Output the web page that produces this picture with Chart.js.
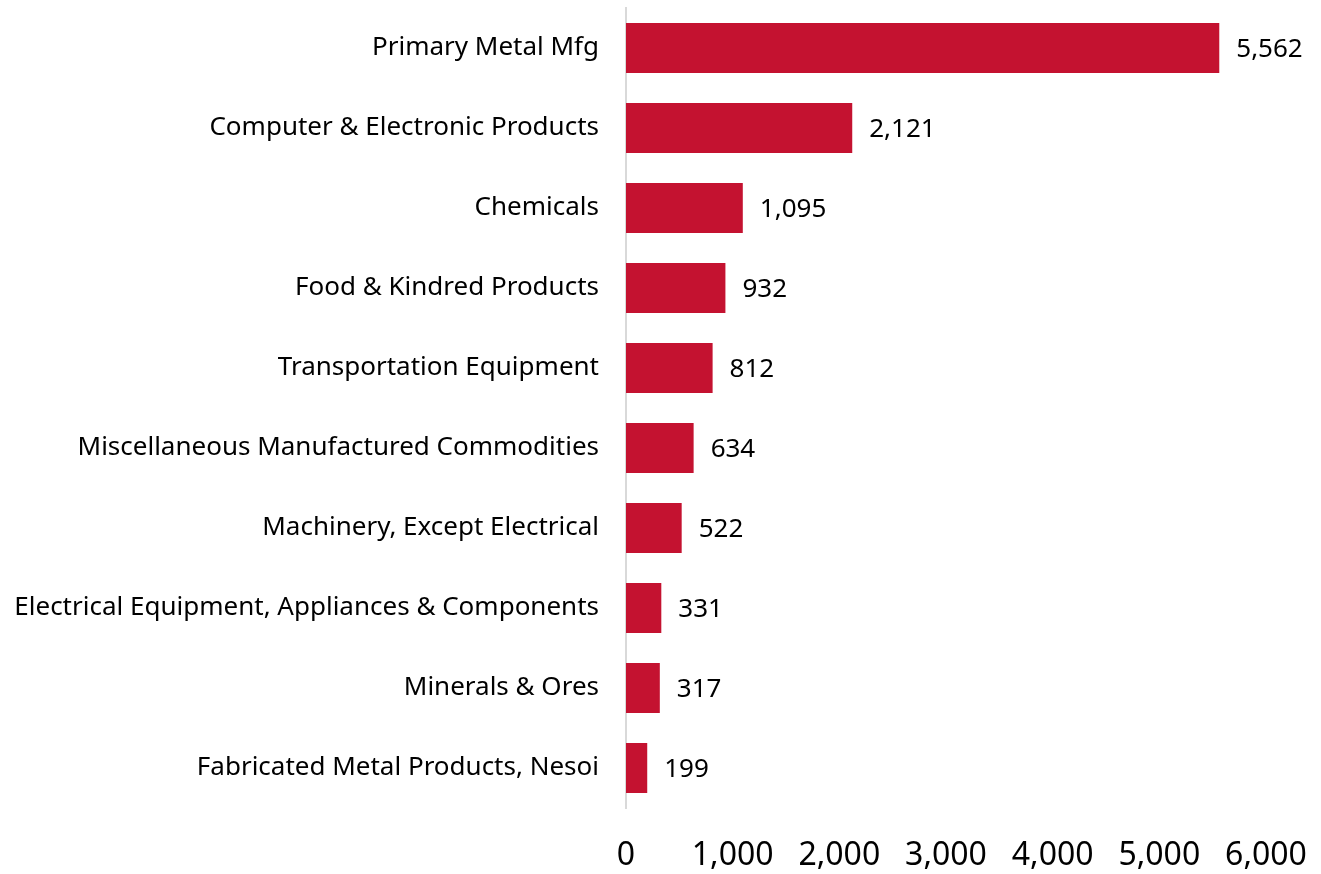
<!DOCTYPE html>
<html>
<head>
<meta charset="utf-8">
<script src="https://cdn.jsdelivr.net/npm/chart.js@4"></script>
<style>
html,body{margin:0;padding:0;background:#fff;}
#wrap{width:1321px;height:874px;position:relative;}
</style>
</head>
<body>
<div id="wrap"><canvas id="c" width="1321" height="874"></canvas></div>
<script>
const categories = [
  "Primary Metal Mfg",
  "Computer & Electronic Products",
  "Chemicals",
  "Food & Kindred Products",
  "Transportation Equipment",
  "Miscellaneous Manufactured Commodities",
  "Machinery, Except Electrical",
  "Electrical Equipment, Appliances & Components",
  "Minerals & Ores",
  "Fabricated Metal Products, Nesoi"
];
const values = [5562, 2121, 1095, 932, 812, 634, 522, 331, 317, 199];
const tickValues = [0, 1000, 2000, 3000, 4000, 5000, 6000];

const FONT = "'Noto Sans', sans-serif";
const fmt = v => v.toLocaleString('en-US');

const valueLabels = {
  id: 'valueLabels',
  afterDatasetsDraw(chart) {
    const ctx = chart.ctx;
    const meta = chart.getDatasetMeta(0);
    ctx.save();
    ctx.font = "26px " + FONT;
    ctx.fillStyle = "#000";
    ctx.textAlign = "left";
    ctx.textBaseline = "middle";
    meta.data.forEach((bar, i) => {
      ctx.fillText(fmt(values[i]), bar.x + 17, bar.y + 2);
    });
    ctx.restore();
  }
};

new Chart(document.getElementById('c'), {
  type: 'bar',
  data: {
    labels: categories,
    datasets: [{
      data: values,
      backgroundColor: '#c41230',
      borderWidth: 0,
      barPercentage: 0.625,
      categoryPercentage: 1.0
    }]
  },
  options: {
    indexAxis: 'y',
    responsive: false,
    animation: false,
    events: [],
    layout: { padding: { left: 0, right: 55, top: 8, bottom: 0 } },
    plugins: { legend: { display: false }, tooltip: { enabled: false } },
    scales: {
      x: {
        min: 0, max: 6000,
        afterBuildTicks(scale) { scale.ticks = tickValues.map(v => ({ value: v })); },
        afterFit(scale) { scale.height = 66; scale.paddingLeft = 0; scale.paddingRight = 0; },
        grid: { display: false, drawTicks: false },
        border: { display: false },
        ticks: {
          color: '#000',
          font: { family: FONT, size: 32 },
          padding: 29,
          maxRotation: 0,
          callback: v => fmt(v)
        }
      },
      y: {
        afterFit(scale) { scale.width = 626; scale.paddingTop = 0; scale.paddingBottom = 0; },
        grid: { display: false, drawTicks: false },
        border: { display: true, color: '#d9d9d9', width: 2 },
        ticks: {
          color: '#000',
          font: { family: FONT, size: 26 },
          padding: 27
        }
      }
    }
  },
  plugins: [valueLabels]
});
</script>
</body>
</html>
